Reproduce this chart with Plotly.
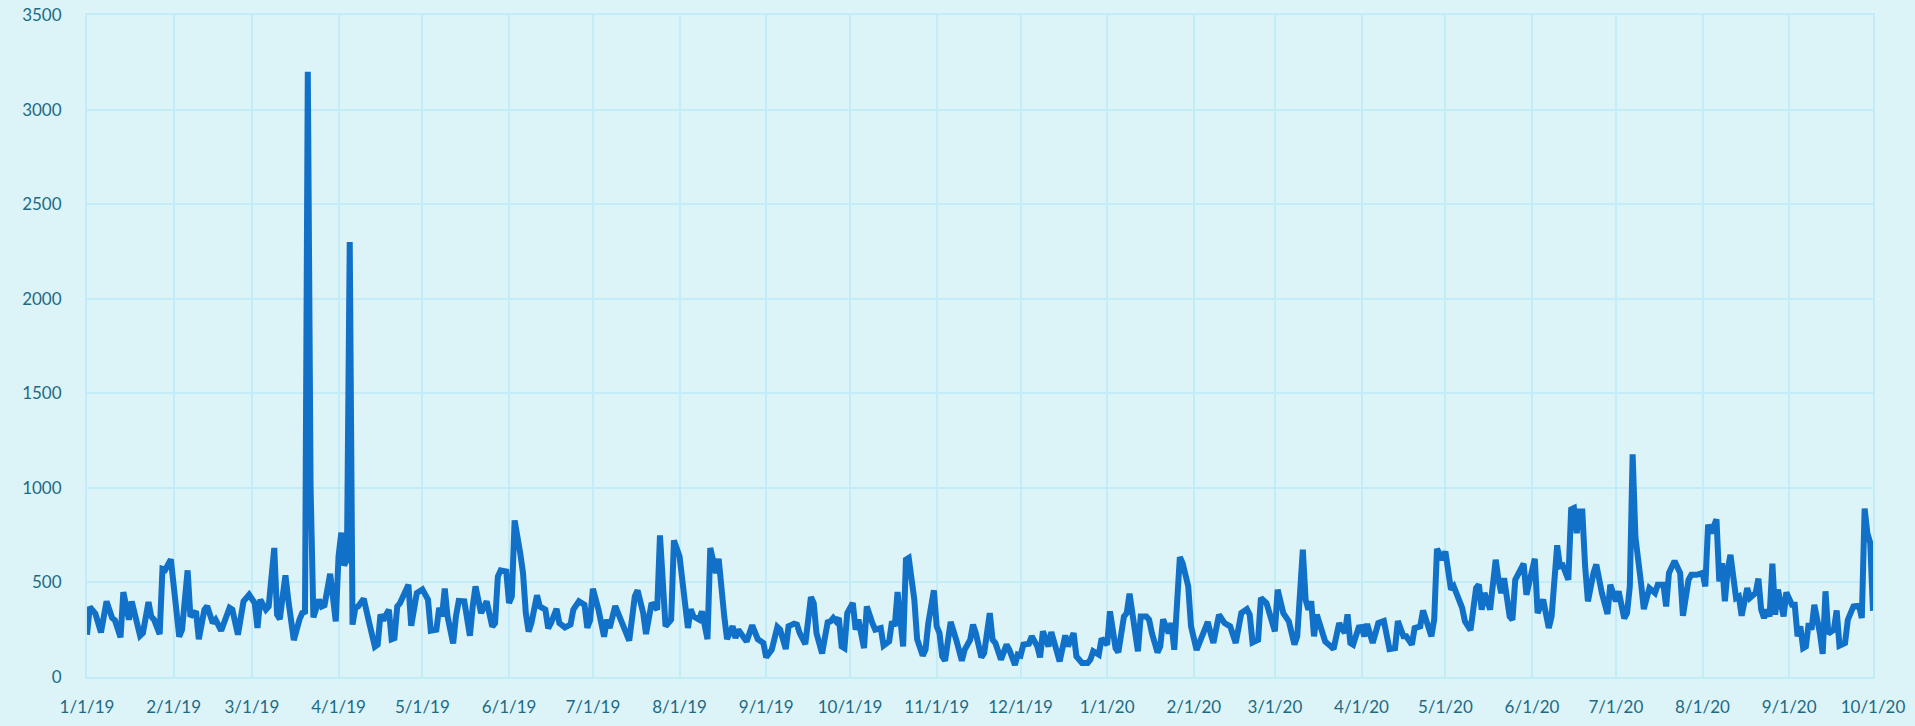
import pandas as pd
import plotly.graph_objects as go

start_date = "2019-01-01"

# days since 1/1/19 for each traced vertex of the line
day_offsets = [
    0, 1, 3, 5, 7, 9, 10, 12, 13, 15, 16, 19, 20, 22, 23, 24, 26, 27, 28, 30, 33, 34, 36, 37, 39, 40, 42, 43, 45, 46, 48, 51, 52, 54, 56, 58,
    60, 61, 62, 64, 65, 67, 68, 69, 70, 71, 72, 74, 76, 77, 78, 79, 80, 81, 83, 84, 85, 87, 89, 90, 91, 92, 93, 94, 95, 96, 97, 99, 101, 103, 104, 105, 106, 108, 109, 110, 111, 112, 115, 116,
    118, 120, 122, 123, 125, 126, 127, 128, 129, 131, 132, 133, 135, 137, 138, 139, 141, 142, 143, 145, 146, 147, 148, 150, 151, 152, 153, 155, 156, 157, 158, 159, 161, 162, 164, 165, 166, 168, 169, 171, 173, 174, 176,
    178, 179, 180, 181, 183, 185, 186, 187, 189, 190, 191, 194, 196, 197, 199, 200, 202, 204, 205, 207, 209, 210, 212, 213, 215, 216, 217, 219, 220, 222, 223, 225, 226, 228, 229, 231, 232, 233,
    236, 238, 240, 242, 243, 245, 247, 248, 250, 251, 253, 254, 255, 257, 259, 260, 261, 263, 265, 266, 267, 268, 269, 270, 271, 272, 274, 275, 276, 278, 279, 281, 282, 284, 285, 287, 288, 289, 290, 292, 293, 294,
    296, 297, 299, 300, 301, 303, 304, 305, 306, 307, 308, 309, 311, 313, 314, 316, 317, 318, 320, 321, 323, 324, 325, 327, 329, 330, 332, 333, 334, 335, 337, 338, 340, 341, 342, 344, 345, 347, 348, 350, 351, 353,
    354, 356, 358, 359, 360, 362, 363, 365, 366, 368, 369, 371, 372, 373, 375, 376, 377, 379, 380, 381, 383, 384, 385, 387, 388, 389, 391, 392, 394, 395, 397, 399, 401, 402, 403, 405, 407, 409,
    411, 413, 415, 416, 417, 419, 420, 422, 424, 425, 426, 428, 430, 432, 433, 435, 436, 437, 438, 439, 440, 442, 443, 445, 446, 448, 450, 451, 452, 453, 455, 456, 457, 458, 460, 461, 462, 464, 466, 468, 469, 471,
    472, 474, 475, 477, 478, 481, 482, 483, 485, 486, 488, 489, 491, 492, 493, 495, 497, 498, 499, 500, 502, 504, 505, 506, 507, 509, 510, 511, 514, 515, 518, 519, 521, 523, 524, 525, 526, 527, 528, 530,
    531, 532, 533, 534, 535, 536, 537, 539, 540, 542, 544, 545, 547, 548, 550, 551, 552, 553, 554, 556, 557, 559, 561, 562, 564, 565, 566, 568, 570, 571, 573, 574, 576, 578, 579, 580, 581, 583, 584, 585, 586, 587, 588,
    590, 591, 592, 594, 595, 597, 598, 599, 600, 601, 602, 603, 604, 605, 606, 607, 608, 610, 611, 612, 613, 614, 615, 616, 617, 618, 620, 621, 622, 623, 625, 626, 627, 629, 630, 632, 634, 635, 636, 637, 638, 639,
]

values = [
    224, 370, 335, 236, 400, 312, 300, 210, 449, 303, 400, 218, 232, 396, 320, 303, 227, 572, 567, 622, 213, 250, 564, 320, 347, 200, 356, 375, 285, 303, 245, 366, 356, 224, 400, 435,
    391, 259, 409, 356, 373, 682, 330, 306, 426, 537, 409, 195, 303, 338, 345, 3200, 1000, 315, 409, 373, 380, 546, 294, 638, 763, 590, 620, 2300, 277, 365, 373, 414, 285, 160, 171, 330, 300, 356, 200, 206, 373, 391, 488, 271,
    444, 463, 409, 245, 250, 365, 320, 467, 320, 178, 320, 402, 400, 218, 373, 479, 338, 365, 400, 266, 285, 532, 564, 558, 391, 426, 828, 655, 550, 338, 240, 285, 432, 373, 356, 257, 285, 360, 285, 262, 277, 356, 400,
    382, 260, 300, 467, 356, 213, 303, 259, 375, 338, 320, 192, 426, 458, 338, 227, 391, 356, 749, 268, 303, 722, 638, 497, 259, 358, 320, 303, 347, 200, 682, 550, 625, 320, 200, 268, 206, 250,
    188, 273, 200, 180, 104, 144, 264, 250, 148, 268, 282, 277, 232, 174, 423, 391, 232, 125, 289, 294, 312, 294, 312, 162, 153, 338, 391, 250, 303, 153, 373, 285, 250, 259, 166, 188, 294, 268, 449, 162, 620, 629,
    409, 200, 113, 144, 285, 458, 268, 232, 109, 86, 197, 291, 197, 86, 144, 197, 277, 232, 104, 127, 338, 197, 180, 92, 171, 144, 63, 118, 113, 171, 176, 215, 162, 104, 241, 162, 238, 127, 83, 220, 162, 232,
    109, 74, 74, 92, 136, 118, 203, 171, 347, 153, 130, 320, 338, 440, 197, 136, 320, 320, 303, 232, 130, 162, 305, 232, 285, 144, 634, 602, 479, 268, 143, 215, 291, 232, 180, 329, 285, 268,
    180, 338, 359, 330, 183, 197, 418, 391, 303, 241, 462, 338, 294, 171, 215, 673, 409, 356, 400, 215, 330, 215, 188, 162, 148, 285, 232, 331, 180, 171, 262, 264, 215, 280, 180, 232, 285, 296, 148, 153, 296, 215,
    215, 171, 259, 268, 352, 215, 303, 678, 620, 664, 462, 479, 391, 365, 294, 248, 470, 488, 356, 444, 356, 620, 514, 444, 523, 320, 303, 514, 599, 435, 625, 338, 409, 259, 320, 558, 696, 585, 590, 514,
    886, 893, 761, 875, 875, 585, 400, 550, 595, 444, 333, 488, 400, 453, 310, 338, 479, 1177, 740, 497, 359, 470, 444, 488, 488, 373, 550, 613, 550, 324, 514, 540, 540, 550, 479, 805, 761, 833, 505, 602, 400, 567, 646,
    418, 426, 324, 470, 418, 444, 520, 356, 312, 356, 320, 599, 330, 462, 391, 320, 447, 382, 382, 215, 268, 153, 162, 285, 250, 382, 232, 122, 453, 230, 250, 352, 166, 180, 303, 373, 377, 312, 890, 760, 710, 350,
]

y_ticks = [0, 500, 1000, 1500, 2000, 2500, 3000, 3500]
x_range = ["2019-01-01", "2020-10-01"]

BG = "#dcf4f8"
GRID = "#c2ecf8"
LINE = "#1170c8"
TEXT = "#1d6a84"

dates = pd.Timestamp(start_date) + pd.to_timedelta(day_offsets, unit="D")

fig = go.Figure(
    go.Scatter(
        x=dates,
        y=values,
        mode="lines",
        line=dict(color=LINE, width=6),
        hoverinfo="x+y",
    )
)

fig.update_layout(
    width=1915,
    height=726,
    margin=dict(l=87, r=42, t=15, b=49, autoexpand=False),
    paper_bgcolor=BG,
    plot_bgcolor=BG,
    showlegend=False,
    font=dict(family="Lato, 'Open Sans', sans-serif", size=17, color=TEXT),
    template="none",
)

axis_common = dict(
    showgrid=True,
    gridcolor=GRID,
    gridwidth=2,
    zeroline=False,
    showline=True,
    linecolor=GRID,
    linewidth=2,
    mirror=True,
    tickcolor="rgba(0,0,0,0)",
    ticks="outside",
    automargin=False,
)

fig.update_xaxes(
    type="date",
    range=x_range,
    tick0="2019-01-01",
    dtick="M1",
    tickformat="%-m/%-d/%y",
    ticklen=14,
    **axis_common,
)

fig.update_yaxes(
    range=[0, 3500],
    tickvals=y_ticks,
    ticklen=20,
    **axis_common,
)

fig.write_html(
    "out.html",
    config={"displayModeBar": False},
    post_script="document.body.style.margin='0';document.body.style.overflow='hidden';",
)
